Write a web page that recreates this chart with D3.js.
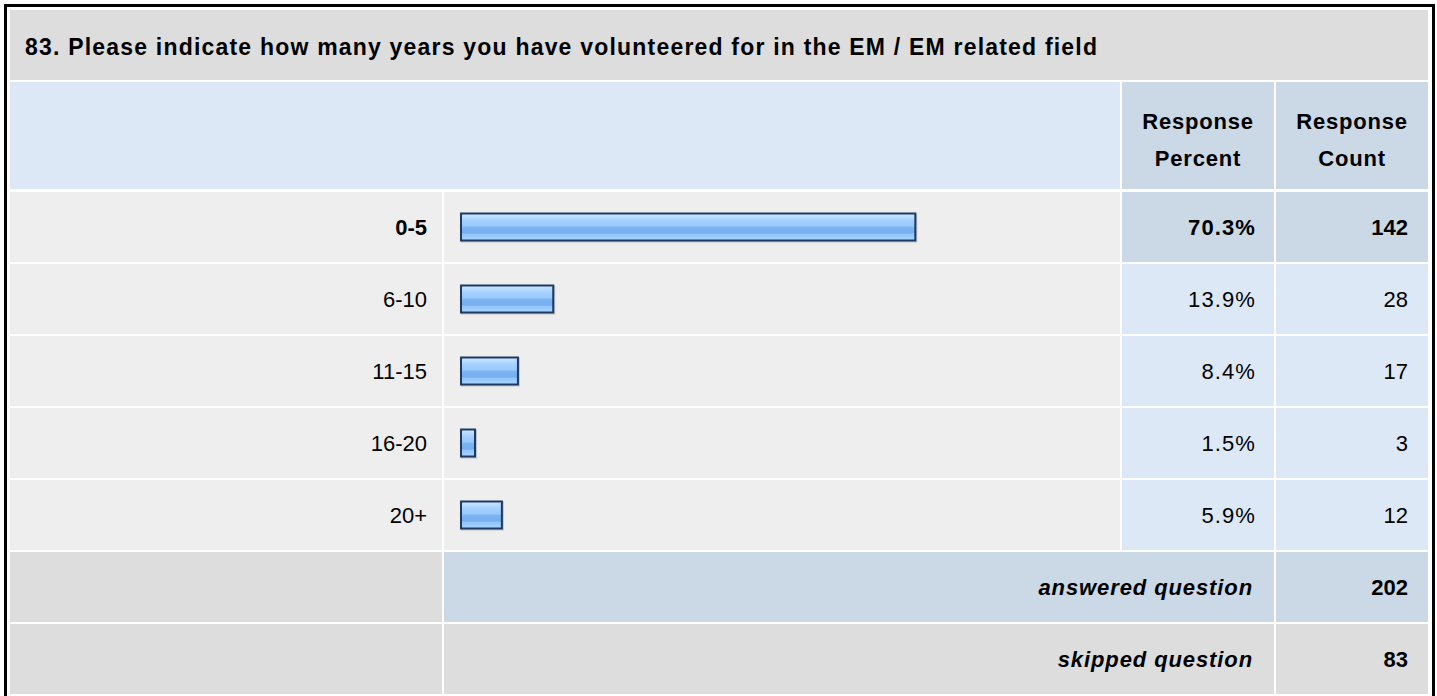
<!DOCTYPE html>
<html>
<head>
<meta charset="utf-8">
<script src="https://cdn.jsdelivr.net/npm/d3@7"></script>
<style>
  html, body { margin: 0; padding: 0; background: #ffffff; }
  svg { display: block; }
  text { font-family: "Liberation Sans", Arial, Helvetica, sans-serif; fill: #000; }
</style>
</head>
<body>
<svg id="chart" width="1437" height="696"></svg>
<script>
// ---- data ----
const title = "83. Please indicate how many years you have volunteered for in the EM / EM related field";
const headerLabels = [["Response", "Percent"], ["Response", "Count"]];
const categories = ["0-5", "6-10", "11-15", "16-20", "20+"];
const percents = [70.3, 13.9, 8.4, 1.5, 5.9];
const counts = [142, 28, 17, 3, 12];
const summaryLabels = ["answered question", "skipped question"];
const summaryValues = [202, 83];

// ---- layout ----
const svg = d3.select("#chart");
const W = 1437, H = 696;

const colLabel = [10, 442], colBar = [444, 1120], colPct = [1122, 1274], colCnt = [1276, 1428];
const C = {
  title: "#dddddd", head: "#dce8f5", headDark: "#cbd8e6",
  row: "#eeeeee", pct: "#dce8f5", hi: "#cbd8e6", gray: "#dddddd"
};
const maxIdx = d3.maxIndex(percents);
const FS = 22;

// gradient for bars
const defs = svg.append("defs");
const g = defs.append("linearGradient").attr("id", "barGrad")
  .attr("x1", 0).attr("y1", 0).attr("x2", 0).attr("y2", 1);
[[0, "#d2e8ff"], [0.12, "#bcdcff"], [0.25, "#a6d1ff"], [0.45, "#98c9ff"],
 [0.52, "#7db4f2"], [0.72, "#76aeee"], [0.78, "#93c6ff"], [1, "#a9d5ff"]]
  .forEach(([o, c]) => g.append("stop").attr("offset", o).attr("stop-color", c));

// outer frame
svg.append("rect").attr("x", 0).attr("y", 0).attr("width", W).attr("height", H).attr("fill", "#fff");
svg.append("rect").attr("x", 5.5).attr("y", 5.5).attr("width", 1428).attr("height", 700)
  .attr("fill", "#fff").attr("stroke", "#000").attr("stroke-width", 3);

function cell(x0x1, y0, y1, fill) {
  svg.append("rect").attr("x", x0x1[0]).attr("y", y0)
    .attr("width", x0x1[1] - x0x1[0]).attr("height", y1 - y0).attr("fill", fill);
}

// title row
cell([10, 1428], 10, 80, C.title);
svg.append("text").attr("x", 25).attr("y", 55)
  .attr("font-size", 23).attr("font-weight", "bold").attr("letter-spacing", 1.2)
  .text(title);

// header row
cell([10, 1120], 82, 189, C.head);
cell(colPct, 82, 189, C.headDark);
cell(colCnt, 82, 189, C.headDark);
[colPct, colCnt].forEach((col, i) => {
  const t = svg.append("text").attr("x", (col[0] + col[1]) / 2).attr("text-anchor", "middle")
    .attr("font-size", FS).attr("font-weight", "bold").attr("letter-spacing", 0.8);
  t.append("tspan").attr("x", (col[0] + col[1]) / 2).attr("y", 129).text(headerLabels[i][0]);
  t.append("tspan").attr("x", (col[0] + col[1]) / 2).attr("y", 166).text(headerLabels[i][1]);
});

// rows
const y = d3.scaleBand().domain(categories).range([192, 550]).paddingInner(2 / 72).paddingOuter(0);
const x = d3.scaleLinear().domain([0, 100]).range([0, 642]);
const barH = 29;

const rows = svg.append("g").selectAll("g").data(categories).join("g")
  .attr("transform", d => `translate(0,${y(d)})`);
const bw = y.bandwidth();

rows.each(function (d, i) {
  const r = d3.select(this);
  const bold = i === maxIdx ? "bold" : "normal";
  r.append("rect").attr("x", colLabel[0]).attr("width", colLabel[1] - colLabel[0]).attr("height", bw).attr("fill", C.row);
  r.append("rect").attr("x", colBar[0]).attr("width", colBar[1] - colBar[0]).attr("height", bw).attr("fill", C.row);
  r.append("rect").attr("x", colPct[0]).attr("width", colPct[1] - colPct[0]).attr("height", bw).attr("fill", i === maxIdx ? C.hi : C.pct);
  r.append("rect").attr("x", colCnt[0]).attr("width", colCnt[1] - colCnt[0]).attr("height", bw).attr("fill", i === maxIdx ? C.hi : C.pct);

  const ty = bw / 2 + 8;
  r.append("text").attr("x", 427).attr("y", ty).attr("text-anchor", "end")
    .attr("font-size", FS).attr("font-weight", bold).text(d);
  r.append("text").attr("x", 1256).attr("y", ty).attr("text-anchor", "end")
    .attr("font-size", FS).attr("font-weight", bold).attr("letter-spacing", 1.1).text(percents[i].toFixed(1) + "%");
  r.append("text").attr("x", 1408).attr("y", ty).attr("text-anchor", "end")
    .attr("font-size", FS).attr("font-weight", bold).text(counts[i]);

  // bar
  const w = Math.max(x(percents[i]) + 5, 16);
  const by = (bw - barH) / 2;
  r.append("rect").attr("x", 461).attr("y", by + 1).attr("width", w).attr("height", barH)
    .attr("fill", "#9aa3b0").attr("opacity", 0.55);
  r.append("rect").attr("x", 461).attr("y", by + 1).attr("width", w - 2).attr("height", barH - 2)
    .attr("fill", "url(#barGrad)").attr("stroke", "#1f3a60").attr("stroke-width", 2);
});

// summary rows
const ys = d3.scaleBand().domain(summaryLabels).range([552, 694]).paddingInner(2 / 72).paddingOuter(0);
summaryLabels.forEach((lab, i) => {
  const y0 = ys(lab), y1 = y0 + ys.bandwidth();
  cell(colLabel, y0, y1, C.gray);
  cell([colBar[0], colPct[1]], y0, y1, i === 0 ? C.hi : C.gray);
  cell(colCnt, y0, y1, i === 0 ? C.hi : C.gray);
  svg.append("text").attr("x", 1253).attr("y", y0 + ys.bandwidth() / 2 + 8).attr("text-anchor", "end")
    .attr("font-size", FS).attr("font-weight", "bold").attr("font-style", "italic").attr("letter-spacing", 0.9)
    .text(lab);
  svg.append("text").attr("x", 1408).attr("y", y0 + ys.bandwidth() / 2 + 8).attr("text-anchor", "end")
    .attr("font-size", FS).attr("font-weight", "bold").text(summaryValues[i]);
});
</script>
</body>
</html>
